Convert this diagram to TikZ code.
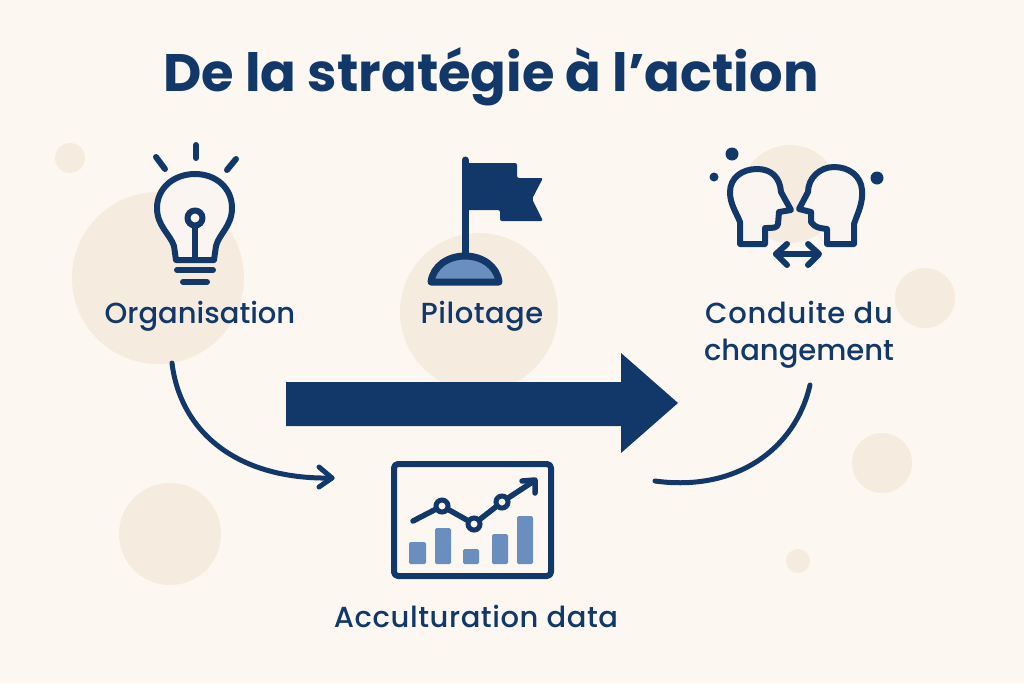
\documentclass[tikz,border=0pt]{standalone}
\usepackage{fontspec}
\setmainfont{Poppins Medium}
\newfontfamily\titlefont{Poppins Bold}
\usetikzlibrary{arrows.meta}
\definecolor{bgc}{HTML}{FDF7F1}
\definecolor{blobc}{HTML}{F6EBDF}
\definecolor{navy}{HTML}{113869}
\definecolor{midblue}{HTML}{6A8FBE}
\definecolor{innerc}{HTML}{FAF5F0}
\tikzset{
  blob/.style={fill=blobc,draw=none},
  icon/.style={draw=navy,line width=6pt,line cap=round,line join=round},
  bar/.style={fill=midblue,draw=none,rounded corners=1.5pt},
  dotp/.style={fill=navy,draw=none},
  lab/.style={text=navy,font=\fontsize{29}{33}\selectfont,inner sep=0pt,anchor=base,align=center},
  flow/.style={draw=navy,line width=5pt,line cap=round}
}
\begin{document}
\begin{tikzpicture}[x=1pt,y=-1pt]
\useasboundingbox (0,0) rectangle (1024,683);
\fill[bgc] (0,0) rectangle (1024,683);
% background blobs
\fill[blob] (158,278) circle[radius=86];
\fill[blob] (479,312) circle[radius=79];
\fill[blob] (790,194) circle[radius=49];
\fill[blob] (70,158) circle[radius=15];
\fill[blob] (925,298) circle[radius=30];
\fill[blob] (882,463) circle[radius=30];
\fill[blob] (170,534) circle[radius=51];
\fill[blob] (798,561) circle[radius=12];
% title
\node[text=navy,inner sep=0pt,anchor=base] (title) at (491,91) {\titlefont\fontsize{52.7}{58}\selectfont De la stratégie à l’action};
% bulb
\draw[icon,fill=innerc] (176,260) -- (174,246) .. controls (170,234) and (157,226) .. (157,208)
  .. controls (157,188) and (174,174) .. (195,174)
  .. controls (216,174) and (232,188) .. (232,208)
  .. controls (232,226) and (219,234) .. (216,246) -- (214,260) -- cycle;
\draw[icon] (195,225) -- (195,258);
\draw[icon,fill=bgc] (195,218) circle[radius=7.5];
\draw[icon] (177,270) -- (213,270);
\draw[icon] (183,282) -- (207,282);
\draw[icon] (196,145) -- (196,158);
\draw[icon] (156,157) -- (165,169);
\draw[icon] (236,159) -- (227,170);
% flag
\draw[icon,line width=7pt] (465,160) -- (465,256);
\fill[navy,rounded corners=2pt] (465,163) -- (517,163) -- (517,178) -- (543,178) -- (532,199) -- (543,221) -- (500,221) -- (500,210) -- (465,210) -- cycle;
\draw[icon,line width=7pt,fill=midblue] (431,282) .. controls (433,266) and (448,256) .. (465,256) .. controls (482,256) and (497,266) .. (499,282) -- cycle;
% heads
\draw[icon,fill=innerc] (740,244) -- (740,222) .. controls (736,212) and (730,204) .. (730,192)
  .. controls (730,178) and (742,169) .. (757,169)
  .. controls (772,169) and (780,178) .. (781,192)
  -- (791,210) -- (779,212) -- (778,224) .. controls (777,228) and (774,228) .. (765,228) -- (765,244) -- cycle;
\draw[icon,fill=innerc] (854,244) -- (854,224) .. controls (858,212) and (863,204) .. (862,190)
  .. controls (861,176) and (849,167) .. (834,167)
  .. controls (820,167) and (808,178) .. (808,192)
  -- (799,209) -- (811,212) -- (811,222) .. controls (815,228) and (820,228) .. (827,229) -- (827,244) -- cycle;
\fill[dotp] (732,154) circle[radius=6.5];
\fill[dotp] (714,177) circle[radius=4.5];
\fill[dotp] (877,178) circle[radius=6.5];
\draw[icon] (776,254) -- (818,254);
\draw[icon] (787,244) -- (776,254) -- (787,265);
\draw[icon] (808,244) -- (819,254) -- (808,265);
% big arrow
\fill[navy] (286,382) -- (621,382) -- (621,353) -- (678,403) -- (621,453) -- (621,426) -- (286,426) -- cycle;
% chart
\draw[icon,line width=6pt,fill=bgc,rounded corners=4pt] (394,464) rectangle (551,576);
\fill[bar] (409,542) rectangle (426,564);
\fill[bar] (435,528) rectangle (451,564);
\fill[bar] (463,549) rectangle (479,564);
\fill[bar] (492,534) rectangle (508,564);
\fill[bar] (517,516) rectangle (533,564);
\coordinate (p0) at (413,521);
\coordinate (p1) at (442,506);
\coordinate (p2) at (474,524);
\coordinate (p3) at (502,502);
\coordinate (p4) at (534,481);
\draw[icon,line width=5.5pt] (p0) -- (p1) -- (p2) -- (p3) -- (p4);
\draw[icon,line width=5.5pt] (522,481) -- (535,480) -- (535,493);
\foreach \p in {p1,p2,p3} \draw[navy,line width=5pt,fill=bgc] (\p) circle[radius=6];
% labels
\node[lab] (org) at (200,323) {Organisation};
\node[lab] (pil) at (482,323) {\addfontfeature{LetterSpace=1.7}Pilotage};
\node[lab] (con1) at (799,323) {\addfontfeature{LetterSpace=2.8}Conduite du};
\node[lab] (con2) at (799,360) {changement};
\node[lab] (acc) at (476,627) {\addfontfeature{LetterSpace=2}Acculturation data};
% connectors
\coordinate (a1) at (172,363);
\coordinate (a2) at (332,478);
\coordinate (b1) at (655,481);
\coordinate (b2) at (810,385);
\draw[flow] (a1) .. controls (180,430) and (235,480) .. (a2);
\draw[flow,line join=round] (319,467) -- (a2) -- (319,487);
\draw[flow] (b1) .. controls (735,492) and (795,450) .. (b2);
\end{tikzpicture}
\end{document}
